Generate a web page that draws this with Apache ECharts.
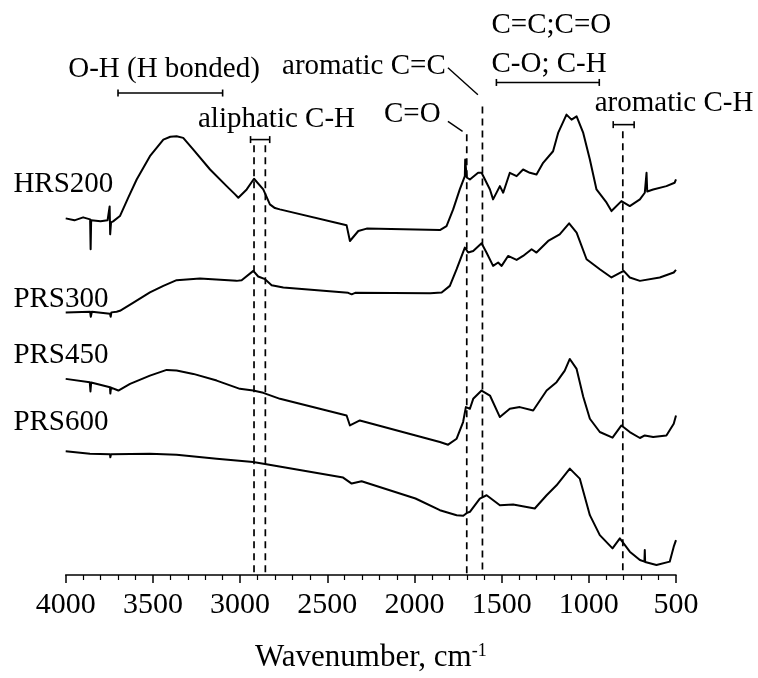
<!DOCTYPE html>
<html>
<head>
<meta charset="utf-8">
<script src="https://cdn.jsdelivr.net/npm/echarts@6/dist/echarts.min.js"></script>
<style>html,body{margin:0;padding:0;background:#fff;}#chart{width:758px;height:678px;}</style>
</head>
<body>
<div id="chart"></div>
<script>
// ---- data (wavenumber cm-1, offset absorbance a.u.) ----
const seriesNames = ['HRS200', 'PRS300', 'PRS450', 'PRS600'];
const hrs200 = [[4000,35.77],[3950,35.57],[3900,35.87],[3860,35.67],[3857,32.67],[3854,35.57],[3800,35.47],[3760,35.57],[3748,36.97],[3745,34.17],[3740,35.37],[3728,35.47],[3689,36.0],[3640,37.9],[3593,39.67],[3517,42.0],[3440,43.67],[3400,43.95],[3364,44.0],[3326,43.84],[3268,42.67],[3172,40.67],[3077,39.0],[3030,38.2],[3010,37.84],[2962,38.67],[2920,39.74],[2867,38.67],[2829,37.17],[2800,36.8],[2772,36.67],[2389,35.07],[2370,33.5],[2322,34.5],[2274,34.74],[1854,34.6],[1816,35.0],[1778,36.67],[1740,38.67],[1711,40.0],[1709,41.67],[1700,39.87],[1682,39.67],[1635,40.34],[1615,40.34],[1567,38.67],[1549,37.67],[1510,39.0],[1491,38.34],[1453,40.34],[1414,40.0],[1377,40.67],[1338,40.34],[1300,40.17],[1262,41.34],[1205,42.5],[1176,44.34],[1128,46.17],[1099,45.67],[1070,46.0],[1032,44.34],[994,41.67],[956,38.67],[898,37.34],[870,36.5],[813,37.5],[765,37.0],[707,37.67],[679,38.34],[669,40.34],[665,38.47],[631,38.67],[555,39.0],[508,39.34],[500,39.67]];
const prs300 = [[4000,26.34],[3860,26.4],[3856,25.9],[3850,26.4],[3746,26.2],[3742,25.9],[3738,26.34],[3708,26.4],[3689,26.5],[3614,27.3],[3517,28.34],[3440,29.0],[3364,29.57],[3230,29.74],[3020,29.5],[2991,29.57],[2924,30.5],[2896,29.94],[2857,29.67],[2819,29.07],[2752,28.84],[2380,28.3],[2360,28.15],[2340,28.3],[1910,28.27],[1844,28.34],[1797,29.0],[1758,30.67],[1711,32.84],[1692,32.34],[1663,32.5],[1615,33.27],[1587,32.34],[1549,31.0],[1520,31.34],[1500,31.0],[1463,32.0],[1414,31.6],[1377,32.0],[1328,32.67],[1300,32.34],[1233,33.5],[1167,34.17],[1113,35.27],[1070,34.34],[1013,31.67],[937,30.67],[870,29.84],[800,30.5],[765,29.84],[707,29.5],[593,29.84],[513,30.34],[500,30.6]];
const prs450 = [[4000,19.67],[3862,19.34],[3858,18.4],[3854,19.3],[3746,18.84],[3744,18.2],[3740,18.8],[3698,18.5],[3631,19.17],[3517,20.0],[3421,20.57],[3364,20.5],[3268,20.17],[3134,19.5],[3001,18.67],[2925,18.5],[2867,18.27],[2771,17.67],[2389,16.0],[2370,15.0],[2313,15.5],[1854,13.34],[1807,13.07],[1758,13.67],[1721,15.34],[1705,16.84],[1682,16.67],[1663,17.67],[1615,18.5],[1567,18.0],[1510,15.84],[1453,16.67],[1396,16.84],[1319,16.5],[1242,18.5],[1185,19.34],[1138,20.5],[1109,21.67],[1070,20.67],[1032,17.87],[994,15.67],[937,14.34],[864,13.77],[813,15.0],[765,14.34],[707,13.74],[679,14.0],[631,13.84],[555,14.0],[513,15.17],[500,16.0]];
const prs600 = [[4000,12.4],[3861,12.17],[3746,12.1],[3744,11.8],[3740,12.1],[3517,12.17],[3364,12.07],[3134,11.67],[2925,11.34],[2849,11.1],[2409,9.77],[2360,9.17],[2303,9.4],[1994,7.67],[1854,6.5],[1758,6.0],[1720,5.94],[1701,6.2],[1682,6.34],[1625,7.67],[1586,8.0],[1510,7.0],[1434,7.07],[1310,6.67],[1242,8.0],[1185,9.0],[1109,10.67],[1052,9.67],[994,6.0],[937,4.0],[864,2.67],[822,3.67],[765,2.34],[707,1.5],[681,1.34],[679,2.5],[677,1.3],[612,1.0],[536,1.34],[513,2.84],[500,3.5]];
const spectra = [hrs200, prs300, prs450, prs600];
// series name label anchors [wavenumber, value]
const seriesLabelPos = [[4300,39.17],[4300,27.67],[4300,22.0],[4300,15.34]];
// band markers: [wavenumber, top value]
const bandLines = [[2920,43.1],[2855,43.1],[1700,44.2],[1610,47.0],[805,44.5]];
// brackets: [from, to, value]
const brackets = [[3700,3100,48.34],[2940,2830,43.67],[1530,940,49.4],[860,740,45.17]];
// leader lines: [w1, v1, w2, v2]
const leaders = [[1808,50.87,1636,48.17],[1808,45.5,1724,44.5]];
// annotation texts: [text, wavenumber, value, align]
const annTexts = ['O-H (H bonded)', 'aliphatic C-H', 'aromatic C=C', 'C=O', 'C=C;C=O', 'C-O; C-H', 'aromatic C-H'];
const annPos = [[3436,50.67],[2791,45.67],[2290,50.97],[2012,46.17],[1558,55.17],[1558,51.17],[966,47.34]];
const annAlign = ['center','center','center','center','left','left','left'];
const xTicks = {min: 500, max: 4000, interval: 500};

const FONT = '"Liberation Serif", "Times New Roman", serif';
const chart = echarts.init(document.getElementById('chart'), null, {renderer: 'canvas'});

const lineSeries = spectra.map((d, i) => ({
  name: seriesNames[i], type: 'line', data: d, showSymbol: false, symbol: 'none',
  lineStyle: {color: '#000', width: 2, join: 'round'}, z: 3, animation: false
}));

const option = {
  animation: false,
  backgroundColor: '#fff',
  grid: {left: 65.7, right: 82, top: 0, bottom: 101.3, containLabel: false},
  xAxis: {
    type: 'value', inverse: true, min: xTicks.min, max: xTicks.max, interval: xTicks.interval,
    axisLine: {show: true, lineStyle: {color: '#000', width: 1.5}},
    axisTick: {show: true, inside: false, length: 8, lineStyle: {color: '#000', width: 1.5}},
    minorTick: {show: true, splitNumber: 5, length: 5, lineStyle: {color: '#000', width: 1.2}},
    splitLine: {show: false}, minorSplitLine: {show: false},
    axisLabel: {color: '#000', fontFamily: FONT, fontSize: 30, margin: 15, formatter: v => String(v)},
    name: '{a|Wavenumber, cm}{b|-1}', nameLocation: 'middle', nameGap: 67,
    nameTextStyle: {color: '#000', fontFamily: FONT, fontSize: 31,
      rich: {a: {fontFamily: FONT, fontSize: 31, color: '#000'}, b: {fontFamily: FONT, fontSize: 18, color: '#000', verticalAlign: 'top'}}}
  },
  yAxis: {type: 'value', show: false, min: 0, max: 57.67},
  series: [
    ...lineSeries,
    {
      type: 'custom', name: 'bands', data: bandLines, clip: false, z: 2, silent: true,
      renderItem: (p, api) => {
        const t = api.coord([api.value(0), api.value(1)]);
        const b = api.coord([api.value(0), 0]);
        return {type: 'line', shape: {x1: t[0], y1: t[1], x2: b[0], y2: b[1]},
          style: {stroke: '#000', lineWidth: 1.7, lineDash: [7, 5]}};
      }
    },
    {
      type: 'custom', name: 'brackets', data: brackets, clip: false, z: 2, silent: true,
      renderItem: (p, api) => {
        const a = api.coord([api.value(0), api.value(2)]);
        const b = api.coord([api.value(1), api.value(2)]);
        const st = {stroke: '#000', lineWidth: 1.6};
        return {type: 'group', children: [
          {type: 'line', shape: {x1: a[0], y1: a[1], x2: b[0], y2: b[1]}, style: st},
          {type: 'line', shape: {x1: a[0], y1: a[1] - 3.5, x2: a[0], y2: a[1] + 3.5}, style: st},
          {type: 'line', shape: {x1: b[0], y1: b[1] - 3.5, x2: b[0], y2: b[1] + 3.5}, style: st}
        ]};
      }
    },
    {
      type: 'custom', name: 'leaders', data: leaders, clip: false, z: 2, silent: true,
      renderItem: (p, api) => {
        const a = api.coord([api.value(0), api.value(1)]);
        const b = api.coord([api.value(2), api.value(3)]);
        return {type: 'line', shape: {x1: a[0], y1: a[1], x2: b[0], y2: b[1]}, style: {stroke: '#000', lineWidth: 1.4}};
      }
    },
    {
      type: 'custom', name: 'annotations', data: annPos, clip: false, z: 4, silent: true,
      renderItem: (p, api) => {
        const c = api.coord([api.value(0), api.value(1)]);
        return {type: 'text', x: c[0], y: c[1], style: {text: annTexts[p.dataIndex], fill: '#000',
          font: '29px ' + FONT, align: annAlign[p.dataIndex], verticalAlign: 'middle'}};
      }
    },
    {
      type: 'custom', name: 'seriesLabels', data: seriesLabelPos, clip: false, z: 4, silent: true,
      renderItem: (p, api) => {
        const c = api.coord([api.value(0), api.value(1)]);
        return {type: 'text', x: c[0], y: c[1], style: {text: seriesNames[p.dataIndex], fill: '#000',
          font: '29px ' + FONT, align: 'left', verticalAlign: 'middle'}};
      }
    }
  ]
};
chart.setOption(option);
</script>
</body>
</html>
